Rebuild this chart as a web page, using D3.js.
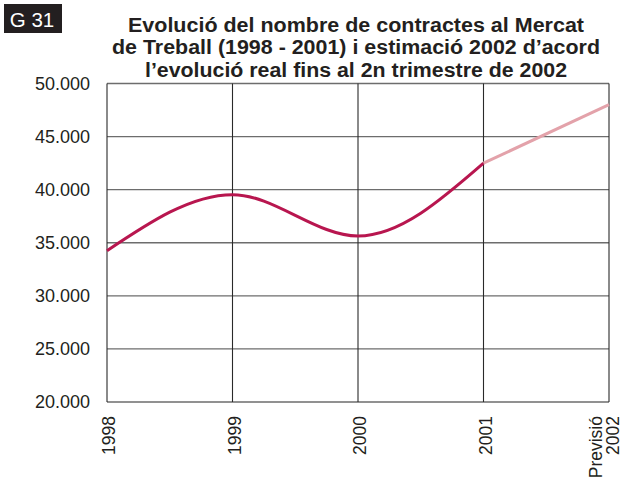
<!DOCTYPE html>
<html>
<head>
<meta charset="utf-8">
<script src="https://cdn.jsdelivr.net/npm/d3@7"></script>
<style>
  html, body { margin: 0; padding: 0; background: #fff; }
  svg { display: block; }
</style>
</head>
<body>
<svg id="chart" width="622" height="482"></svg>
<script>
// Contractes registrats, 1998-2001
const years = [1998, 1999, 2000, 2001];
const contracts = [34250, 39530, 35640, 42500];

// Previsió 2002
const forecastYears = [2001, 2002];
const forecastValues = [42500, 48000];

// Eix X
const yearTicks = [1998, 1999, 2000, 2001, 2002];
const yearLabels = [["1998"], ["1999"], ["2000"], ["2001"], ["Previsió", "2002"]];

// Eix Y
const yTicks = [20000, 25000, 30000, 35000, 40000, 45000, 50000];
const yLabels = ["20.000", "25.000", "30.000", "35.000", "40.000", "45.000", "50.000"];

const titleLines = [
  "Evolució del nombre de contractes al Mercat",
  "de Treball (1998 - 2001) i estimació 2002 d\u2019acord",
  "l\u2019evolució real fins al 2n trimestre de 2002"
];
const titleWidths = [456, 488, 422];

const svg = d3.select("#chart");
const font = "'Liberation Sans', Arial, sans-serif";

const plot = { left: 107, right: 609, top: 83.5, bottom: 402 };

const x = d3.scaleLinear().domain([1998, 2002]).range([plot.left, plot.right]);
const y = d3.scaleLinear().domain([20000, 50000]).range([plot.bottom, plot.top]);

// Etiqueta del gràfic
svg.append("rect").attr("x", 4).attr("y", 4).attr("width", 58).attr("height", 29)
  .attr("fill", "#231f20");
svg.append("text").attr("x", 32).attr("y", 26.5).attr("text-anchor", "middle")
  .attr("font-family", font).attr("font-size", 20.5).attr("fill", "#fff")
  .text("G 31");

// Títol
svg.append("g").selectAll("text").data(titleLines).join("text")
  .attr("x", 356).attr("y", (d, i) => 31.5 + i * 22.5)
  .attr("text-anchor", "middle")
  .attr("font-family", font).attr("font-weight", "bold").attr("font-size", 19.5)
  .attr("textLength", (d, i) => titleWidths[i]).attr("lengthAdjust", "spacingAndGlyphs")
  .attr("fill", "#231f20")
  .text(d => d);

// Línies horitzontals de la graella
svg.append("g").selectAll("line").data(yTicks).join("line")
  .attr("x1", plot.left).attr("x2", plot.right)
  .attr("y1", d => y(d)).attr("y2", d => y(d))
  .attr("stroke", "#6d6d6d").attr("stroke-width", 1.4);

// Línies verticals de la graella
svg.append("g").selectAll("line").data(yearTicks).join("line")
  .attr("x1", d => x(d)).attr("x2", d => x(d))
  .attr("y1", plot.top).attr("y2", plot.bottom)
  .attr("stroke", "#2a2a2a").attr("stroke-width", 1.1);

// Eix Y
const yAxis = d3.axisLeft(y).tickValues(yTicks)
  .tickFormat((d, i) => yLabels[i]).tickSize(0).tickPadding(17);
const gy = svg.append("g").attr("transform", `translate(${plot.left},0)`).call(yAxis);
gy.select(".domain").remove();
gy.selectAll("text").attr("font-family", font).attr("font-size", 18)
  .attr("fill", "#231f20");

// Eix X (etiquetes girades)
const gx = svg.append("g");
yearTicks.forEach((t, i) => {
  const lines = yearLabels[i];
  const n = lines.length;
  lines.forEach((txt, j) => {
    const cx = n > 1 ? x(t) - 13 + j * 17 : x(t) + 2;
    gx.append("text")
      .attr("transform", `translate(${cx},416) rotate(-90)`)
      .attr("text-anchor", "end").attr("dy", "0.35em")
      .attr("font-family", font).attr("font-size", 17.5).attr("fill", "#231f20")
      .text(txt);
  });
});

// Sèrie real
const line = d3.line().x(d => x(d[0])).y(d => y(d[1])).curve(d3.curveMonotoneX);
svg.append("path")
  .datum(d3.zip(years, contracts))
  .attr("d", line)
  .attr("fill", "none").attr("stroke", "#b8164f").attr("stroke-width", 3)
  .attr("stroke-linejoin", "round");

// Previsió
svg.append("path")
  .datum(d3.zip(forecastYears, forecastValues))
  .attr("d", d3.line().x(d => x(d[0])).y(d => y(d[1])))
  .attr("fill", "none").attr("stroke", "#e3a2aa").attr("stroke-width", 3);
</script>
</body>
</html>
